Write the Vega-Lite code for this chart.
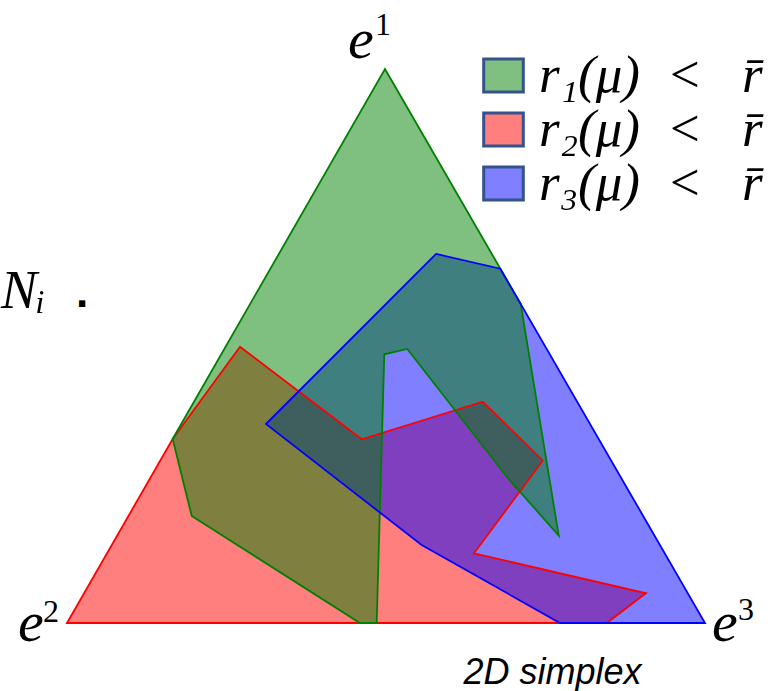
{
  "$schema": "https://vega.github.io/schema/vega-lite/v6.json",
  "width": 779,
  "height": 691,
  "autosize": {"type": "none"},
  "padding": 0,
  "background": "white",
  "config": {"view": {"stroke": null}},
  "datasets": {
    "poly": [
      {"region": "r₂(μ)\u00a0\u00a0<\u00a0\u00a0\u00a0r̄", "i": 1, "x": 0.0, "y": 0.0},
      {"region": "r₂(μ)\u00a0\u00a0<\u00a0\u00a0\u00a0r̄", "i": 2, "x": 0.1656, "y": 0.2884},
      {"region": "r₂(μ)\u00a0\u00a0<\u00a0\u00a0\u00a0r̄", "i": 3, "x": 0.2712, "y": 0.4331},
      {"region": "r₂(μ)\u00a0\u00a0<\u00a0\u00a0\u00a0r̄", "i": 4, "x": 0.4619, "y": 0.2879},
      {"region": "r₂(μ)\u00a0\u00a0<\u00a0\u00a0\u00a0r̄", "i": 5, "x": 0.6516, "y": 0.3469},
      {"region": "r₂(μ)\u00a0\u00a0<\u00a0\u00a0\u00a0r̄", "i": 6, "x": 0.7456, "y": 0.2544},
      {"region": "r₂(μ)\u00a0\u00a0<\u00a0\u00a0\u00a0r̄", "i": 7, "x": 0.6379, "y": 0.1092},
      {"region": "r₂(μ)\u00a0\u00a0<\u00a0\u00a0\u00a0r̄", "i": 8, "x": 0.9075, "y": 0.0466},
      {"region": "r₂(μ)\u00a0\u00a0<\u00a0\u00a0\u00a0r̄", "i": 9, "x": 0.8459, "y": 0.0},
      {"region": "r₃(μ)\u00a0\u00a0<\u00a0\u00a0\u00a0r̄", "i": 1, "x": 0.5784, "y": 0.5784},
      {"region": "r₃(μ)\u00a0\u00a0<\u00a0\u00a0\u00a0r̄", "i": 2, "x": 0.6792, "y": 0.5553},
      {"region": "r₃(μ)\u00a0\u00a0<\u00a0\u00a0\u00a0r̄", "i": 3, "x": 1.0, "y": 0.0},
      {"region": "r₃(μ)\u00a0\u00a0<\u00a0\u00a0\u00a0r̄", "i": 4, "x": 0.7727, "y": 0.0},
      {"region": "r₃(μ)\u00a0\u00a0<\u00a0\u00a0\u00a0r̄", "i": 5, "x": 0.5559, "y": 0.1223},
      {"region": "r₃(μ)\u00a0\u00a0<\u00a0\u00a0\u00a0r̄", "i": 6, "x": 0.3119, "y": 0.3119},
      {"region": "r₁(μ)\u00a0\u00a0<\u00a0\u00a0\u00a0r̄", "i": 1, "x": 0.4984, "y": 0.8683},
      {"region": "r₁(μ)\u00a0\u00a0<\u00a0\u00a0\u00a0r̄", "i": 2, "x": 0.7112, "y": 0.5},
      {"region": "r₁(μ)\u00a0\u00a0<\u00a0\u00a0\u00a0r̄", "i": 3, "x": 0.7707, "y": 0.1371},
      {"region": "r₁(μ)\u00a0\u00a0<\u00a0\u00a0\u00a0r̄", "i": 4, "x": 0.6897, "y": 0.2288},
      {"region": "r₁(μ)\u00a0\u00a0<\u00a0\u00a0\u00a0r̄", "i": 5, "x": 0.5334, "y": 0.4295},
      {"region": "r₁(μ)\u00a0\u00a0<\u00a0\u00a0\u00a0r̄", "i": 6, "x": 0.4973, "y": 0.4212},
      {"region": "r₁(μ)\u00a0\u00a0<\u00a0\u00a0\u00a0r̄", "i": 7, "x": 0.4854, "y": 0.0},
      {"region": "r₁(μ)\u00a0\u00a0<\u00a0\u00a0\u00a0r̄", "i": 8, "x": 0.4592, "y": 0.0},
      {"region": "r₁(μ)\u00a0\u00a0<\u00a0\u00a0\u00a0r̄", "i": 9, "x": 0.1955, "y": 0.1677},
      {"region": "r₁(μ)\u00a0\u00a0<\u00a0\u00a0\u00a0r̄", "i": 10, "x": 0.1656, "y": 0.2884}
    ]
  },
  "encoding": {
    "x": {"field": "x", "type": "quantitative", "scale": {"domain": [-0.10502, 1.11599], "nice": false, "zero": false}, "axis": null},
    "y": {"field": "y", "type": "quantitative", "scale": {"domain": [-0.10658, 0.97649], "nice": false, "zero": false}, "axis": null}
  },
  "layer": [
    {
      "data": {"name": "poly"},
      "mark": {"type": "line", "interpolate": "linear-closed", "strokeWidth": 0, "strokeOpacity": 0, "fillOpacity": 0.5},
      "encoding": {
        "order": {"field": "i", "type": "quantitative"},
        "fill": {
          "field": "region", "type": "nominal",
          "scale": {"domain": ["r₁(μ)\u00a0\u00a0<\u00a0\u00a0\u00a0r̄", "r₂(μ)\u00a0\u00a0<\u00a0\u00a0\u00a0r̄", "r₃(μ)\u00a0\u00a0<\u00a0\u00a0\u00a0r̄"], "range": ["#008000", "#ff0000", "#0000ff"]},
          "legend": {
            "title": null, "orient": "none", "legendX": 477, "legendY": 49,
            "symbolType": "M-1.2,-1H1.2V1H-1.2Z", "symbolSize": 1089,
            "symbolStrokeColor": "#34528c", "symbolStrokeWidth": 3,
            "labelFont": "Liberation Serif", "labelFontStyle": "italic", "labelFontSize": 53,
            "labelColor": "black", "labelOffset": 9, "rowPadding": 0, "labelLimit": 0, "padding": 0,
            "encode": {"symbols": {"update": {"stroke": {"value": "#34528c"}, "strokeWidth": {"value": 3}, "strokeOpacity": {"value": 1}, "fillOpacity": {"value": 0.5}, "opacity": {"value": 1}}}}
          }
        },
        "detail": {"field": "region"}
      }
    },
    {
      "data": {"name": "poly"},
      "transform": [{"filter": "indexof(datum.region, 'r₂') == 0"}],
      "mark": {"type": "line", "interpolate": "linear-closed", "strokeWidth": 1.8, "stroke": "#ff0000", "fill": null},
      "encoding": {"order": {"field": "i", "type": "quantitative"}}
    },
    {
      "data": {"name": "poly"},
      "transform": [{"filter": "indexof(datum.region, 'r₁') == 0"}],
      "mark": {"type": "line", "interpolate": "linear-closed", "strokeWidth": 1.8, "stroke": "#008000", "fill": null},
      "encoding": {"order": {"field": "i", "type": "quantitative"}}
    },
    {
      "data": {"name": "poly"},
      "transform": [{"filter": "indexof(datum.region, 'r₃') == 0"}],
      "mark": {"type": "line", "interpolate": "linear-closed", "strokeWidth": 1.8, "stroke": "#0000ff", "fill": null},
      "encoding": {"order": {"field": "i", "type": "quantitative"}}
    },
    {
      "data": {"values": [
        {"t": "e", "x": 0.4404, "y": 0.8856},
        {"t": "e", "x": -0.0768, "y": -0.0282},
        {"t": "e", "x": 1.011, "y": -0.0282}
      ]},
      "mark": {"type": "text", "font": "Liberation Serif", "fontStyle": "italic", "fontSize": 58, "align": "left", "baseline": "alphabetic", "color": "black"},
      "encoding": {"text": {"field": "t"}}
    },
    {
      "data": {"values": [
        {"t": "1", "x": 0.4828, "y": 0.9216},
        {"t": "2", "x": -0.0376, "y": 0.0016},
        {"t": "3", "x": 1.0517, "y": 0.0047}
      ]},
      "mark": {"type": "text", "font": "Liberation Serif", "fontSize": 32, "align": "left", "baseline": "alphabetic", "color": "black"},
      "encoding": {"text": {"field": "t"}}
    },
    {
      "data": {"values": [
        {"t": "Nᵢ", "x": -0.1035, "y": 0.4937}
      ]},
      "mark": {"type": "text", "font": "Liberation Serif", "fontStyle": "italic", "fontSize": 54, "align": "left", "baseline": "alphabetic", "color": "black"},
      "encoding": {"text": {"field": "t"}}
    },
    {
      "data": {"values": [
        {"t": ".", "x": 0.0235, "y": 0.4953}
      ]},
      "mark": {"type": "text", "font": "Liberation Sans", "fontWeight": "bold", "fontSize": 44, "align": "center", "baseline": "alphabetic", "color": "black"},
      "encoding": {"text": {"field": "t"}}
    },
    {
      "data": {"values": [
        {"t": "2D simplex", "x": 0.761, "y": -0.0956}
      ]},
      "mark": {"type": "text", "font": "Liberation Sans", "fontStyle": "italic", "fontSize": 36, "align": "center", "baseline": "alphabetic", "color": "black"},
      "encoding": {"text": {"field": "t"}}
    }
  ]
}
